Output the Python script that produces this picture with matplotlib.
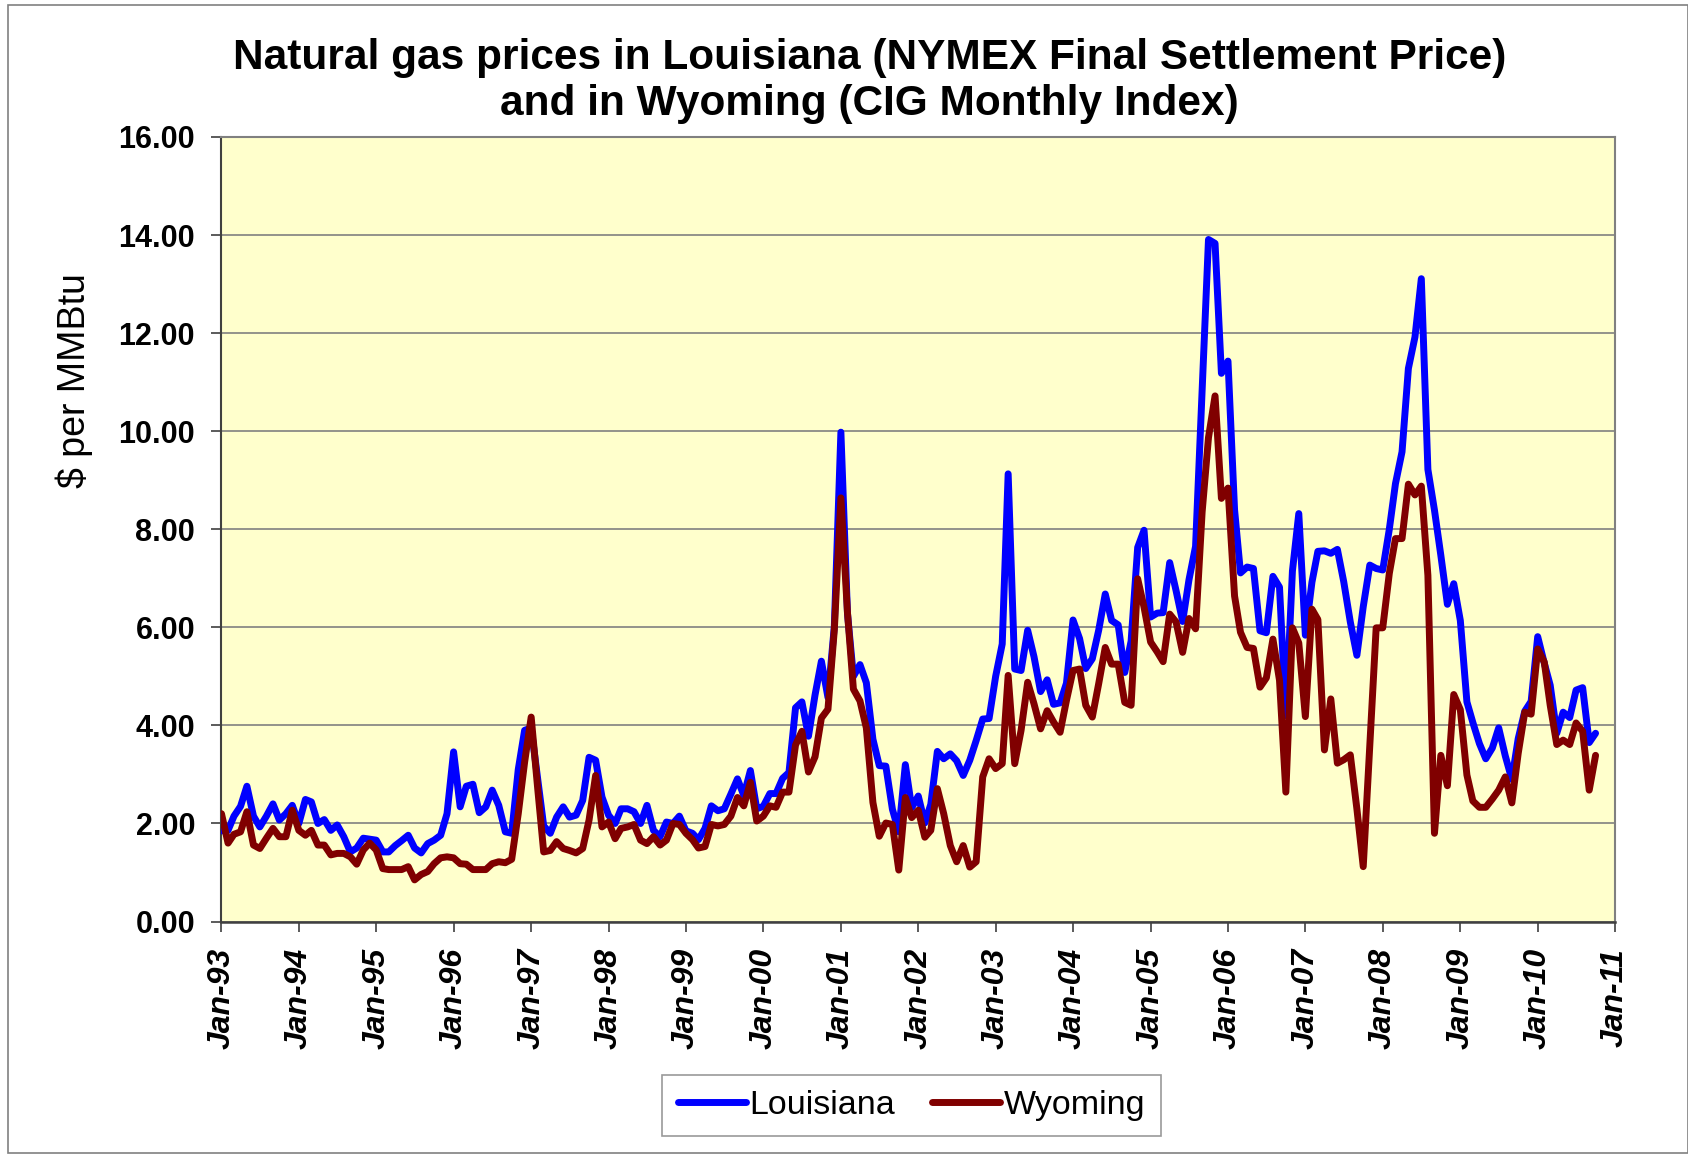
import matplotlib
matplotlib.use("Agg")
import matplotlib.pyplot as plt
import matplotlib.dates as mdates
from matplotlib.patches import Rectangle
import pandas as pd

start_month = "1993-01-01"

louisiana = [
    1.85, 1.86, 2.15, 2.35, 2.76, 2.15, 1.93, 2.15, 2.40, 2.07, 2.20, 2.37,   # 1993
    2.00, 2.49, 2.44, 2.00, 2.08, 1.86, 1.97, 1.73, 1.42, 1.50, 1.70, 1.68,   # 1994
    1.66, 1.42, 1.42, 1.55, 1.65, 1.76, 1.50, 1.40, 1.59, 1.66, 1.76, 2.20,   # 1995
    3.46, 2.34, 2.76, 2.80, 2.22, 2.34, 2.68, 2.37, 1.83, 1.80, 3.10, 3.90,   # 1996
    3.95, 2.90, 1.95, 1.80, 2.13, 2.34, 2.13, 2.17, 2.47, 3.35, 3.29, 2.54,   # 1997
    2.17, 2.00, 2.30, 2.30, 2.24, 2.00, 2.37, 1.86, 1.73, 2.03, 2.00, 2.15,   # 1998
    1.85, 1.80, 1.67, 1.90, 2.36, 2.26, 2.30, 2.60, 2.91, 2.57, 3.08, 2.30,   # 1999
    2.35, 2.61, 2.61, 2.92, 3.04, 4.36, 4.48, 3.78, 4.62, 5.31, 4.57, 6.02,   # 2000
    9.98, 6.29, 5.00, 5.24, 4.87, 3.72, 3.18, 3.17, 2.29, 1.83, 3.20, 2.32,   # 2001
    2.56, 2.01, 2.39, 3.47, 3.32, 3.42, 3.28, 2.98, 3.29, 3.69, 4.13, 4.14,   # 2002
    5.00, 5.66, 9.13, 5.15, 5.12, 5.94, 5.40, 4.69, 4.93, 4.43, 4.46, 4.86,   # 2003
    6.15, 5.77, 5.16, 5.36, 5.94, 6.68, 6.14, 6.05, 5.08, 5.72, 7.63, 7.98,   # 2004
    6.21, 6.29, 6.30, 7.32, 6.75, 6.12, 6.97, 7.65, 10.85, 13.91, 13.83, 11.18,  # 2005
    11.43, 8.40, 7.11, 7.23, 7.20, 5.93, 5.89, 7.04, 6.82, 4.20, 7.15, 8.32,  # 2006
    5.84, 6.92, 7.55, 7.56, 7.51, 7.59, 6.93, 6.11, 5.43, 6.42, 7.27, 7.20,   # 2007
    7.17, 8.00, 8.93, 9.58, 11.28, 11.92, 13.11, 9.22, 8.39, 7.47, 6.47, 6.89,  # 2008
    6.14, 4.48, 4.06, 3.63, 3.32, 3.54, 3.95, 3.38, 2.90, 3.73, 4.29, 4.49,   # 2009
    5.81, 5.27, 4.82, 3.84, 4.27, 4.16, 4.72, 4.77, 3.65, 3.84,               # 2010
]

wyoming = [
    2.20, 1.60, 1.78, 1.83, 2.24, 1.56, 1.49, 1.70, 1.90, 1.73, 1.73, 2.27,   # 1993
    1.86, 1.76, 1.86, 1.56, 1.56, 1.36, 1.39, 1.39, 1.32, 1.17, 1.46, 1.60,   # 1994
    1.46, 1.08, 1.06, 1.06, 1.06, 1.12, 0.85, 0.96, 1.02, 1.18, 1.30, 1.32,   # 1995
    1.30, 1.18, 1.17, 1.06, 1.06, 1.06, 1.18, 1.22, 1.20, 1.27, 2.20, 3.25,   # 1996
    4.17, 2.70, 1.42, 1.45, 1.63, 1.49, 1.45, 1.40, 1.49, 2.07, 2.98, 1.93,   # 1997
    2.03, 1.69, 1.90, 1.93, 1.98, 1.66, 1.59, 1.73, 1.56, 1.66, 2.00, 1.98,   # 1998
    1.80, 1.67, 1.50, 1.53, 1.98, 1.95, 1.98, 2.15, 2.53, 2.36, 2.84, 2.05,   # 1999
    2.15, 2.36, 2.33, 2.64, 2.64, 3.60, 3.88, 3.05, 3.36, 4.15, 4.33, 5.95,   # 2000
    8.64, 6.30, 4.74, 4.50, 3.95, 2.43, 1.74, 2.01, 1.98, 1.05, 2.53, 2.12,   # 2001
    2.27, 1.72, 1.86, 2.71, 2.20, 1.55, 1.22, 1.55, 1.11, 1.22, 2.95, 3.32,   # 2002
    3.12, 3.22, 5.02, 3.22, 3.90, 4.88, 4.44, 3.93, 4.30, 4.07, 3.86, 4.51,   # 2003
    5.12, 5.15, 4.41, 4.17, 4.85, 5.59, 5.25, 5.25, 4.47, 4.41, 6.99, 6.41,   # 2004
    5.70, 5.50, 5.30, 6.27, 6.11, 5.49, 6.18, 5.97, 8.35, 9.87, 10.72, 8.63,  # 2005
    8.84, 6.64, 5.90, 5.59, 5.57, 4.78, 4.97, 5.76, 4.92, 2.64, 5.99, 5.68,   # 2006
    4.18, 6.37, 6.16, 3.50, 4.54, 3.23, 3.30, 3.40, 2.30, 1.12, 3.60, 5.99,   # 2007
    5.99, 7.10, 7.81, 7.81, 8.92, 8.70, 8.88, 7.06, 1.80, 3.39, 2.77, 4.63,   # 2008
    4.32, 2.99, 2.46, 2.33, 2.33, 2.50, 2.68, 2.95, 2.42, 3.43, 4.27, 4.23,   # 2009
    5.56, 5.29, 4.41, 3.61, 3.70, 3.61, 4.05, 3.88, 2.68, 3.39,               # 2010
]

series_names = ["Louisiana", "Wyoming"]
y_ticks = [0, 2, 4, 6, 8, 10, 12, 14, 16]
title_text = ("Natural gas prices in Louisiana (NYMEX Final Settlement Price)\n"
              "and in Wyoming (CIG Monthly Index)")
y_label = "$ per MMBtu"

dates = pd.date_range(start_month, periods=len(louisiana), freq="MS")

plt.rcParams["font.family"] = ["Liberation Sans", "DejaVu Sans"]

fig = plt.figure(figsize=(16.88, 11.56), dpi=100)
ax = fig.add_axes([0.1312, 0.2028, 0.8256, 0.6787])
ax.set_facecolor("#FFFFCC")

ax.plot(dates, louisiana, color="#0000FF", lw=5.0, solid_joinstyle="round",
        solid_capstyle="round", label=series_names[0], zorder=3)
ax.plot(dates, wyoming, color="#800000", lw=5.0, solid_joinstyle="round",
        solid_capstyle="round", label=series_names[1], zorder=4)

ax.set_ylim(0, 16)
ax.set_yticks(y_ticks)
ax.yaxis.set_major_formatter(plt.FuncFormatter(lambda v, p: f"{v:.2f}"))
ax.grid(axis="y", color="#808080", lw=1.2, zorder=1)
ax.set_axisbelow(True)

ax.set_xlim(pd.Timestamp("1993-01-01"), pd.Timestamp("2011-01-01"))
ax.xaxis.set_major_locator(mdates.YearLocator(1, month=1, day=1))
ax.xaxis.set_major_formatter(mdates.DateFormatter("%b-%y"))

for lab in ax.get_yticklabels():
    lab.set_fontsize(22)
    lab.set_fontweight("bold")
for lab in ax.get_xticklabels():
    lab.set_fontsize(23)
    lab.set_fontweight("bold")
    lab.set_fontstyle("italic")
    lab.set_rotation(90)
ax.tick_params(axis="y", length=7, width=1.2, pad=12, color="#404040")
ax.tick_params(axis="x", length=7, width=1.2, pad=12, color="#404040")

for side in ["top", "right"]:
    ax.spines[side].set_color("#808080")
    ax.spines[side].set_linewidth(1.5)
ax.spines["left"].set_color("#404040")
ax.spines["left"].set_linewidth(1.5)
ax.spines["bottom"].set_color("#404040")
ax.spines["bottom"].set_linewidth(1.8)

fig.text(0.515, 0.930, title_text, ha="center", va="center", fontsize=30.5,
         fontweight="bold", linespacing=1.2)
fig.text(0.0438, 0.671, y_label, ha="center", va="center", rotation=90,
         fontsize=27)

leg = fig.legend(loc="center", bbox_to_anchor=(0.540, 0.0437), ncol=2,
                 fontsize=24.5, frameon=True, fancybox=False, edgecolor="#808080",
                 handlelength=2.0, handletextpad=0.1, columnspacing=1.1,
                 borderpad=0.45)
leg.get_frame().set_linewidth(1.2)

fig.patches.append(Rectangle((0.005, 0.003), 0.995, 0.993, transform=fig.transFigure,
                             fill=False, edgecolor="#808080", lw=1.2))

fig.savefig("out.png", dpi=100)
